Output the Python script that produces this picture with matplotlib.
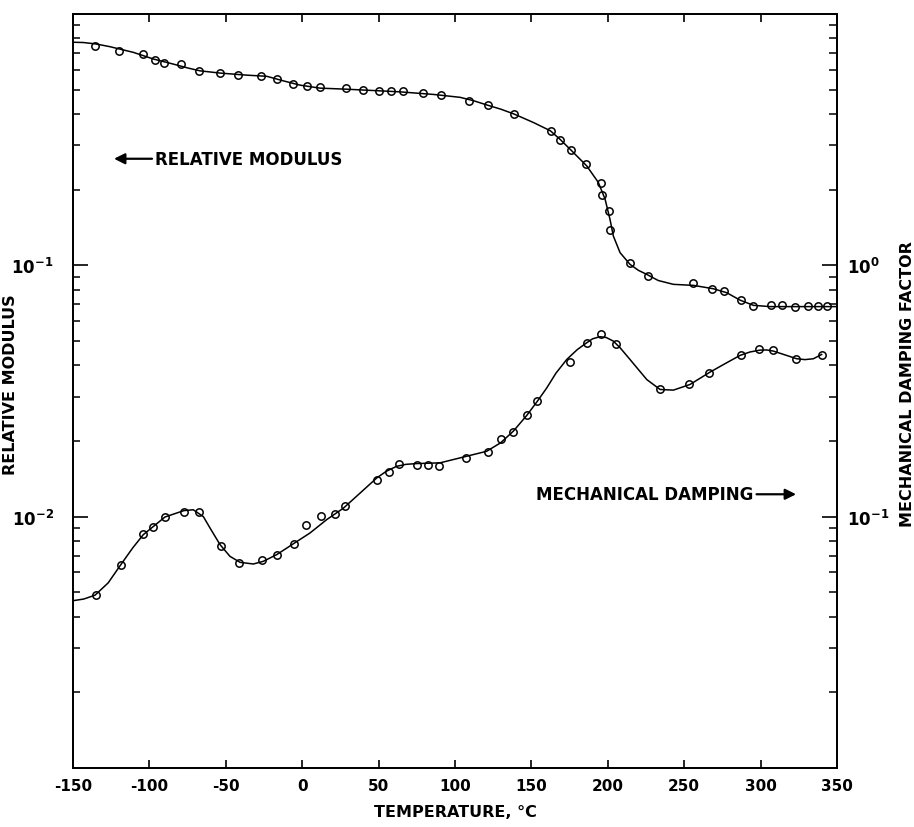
import numpy as np
import matplotlib
matplotlib.use('Agg')
import matplotlib.pyplot as plt
from matplotlib.ticker import LogLocator, NullFormatter, FixedLocator

# measured points: relative modulus (left axis)
mod_temp = [-135.6, -119.7, -104, -96.3, -90.2, -79.5, -67.7, -53.8, -42, -27, -16.7,
            -5.8, 3.1, 11.6, 28.7, 40, 50.5, 58.1, 65.8, 78.9, 90.8,
            109.4, 121.4, 138.8, 162.6, 168.5, 176.1, 185.7, 195.4, 196.2, 200.8, 201.6,
            214.3, 226.5, 255.8, 268, 275.9, 287, 295, 307, 313.8, 322.5, 331, 337.4, 343.7]
mod_val = [0.748, 0.710, 0.691, 0.656, 0.636, 0.634, 0.591, 0.580, 0.573, 0.568, 0.552,
           0.528, 0.517, 0.512, 0.506, 0.499, 0.493, 0.492, 0.492, 0.483, 0.476,
           0.452, 0.434, 0.400, 0.342, 0.314, 0.287, 0.253, 0.212, 0.191, 0.164, 0.138,
           0.102, 0.0910, 0.0850, 0.0808, 0.0790, 0.0727, 0.0687, 0.0693, 0.0697, 0.0680,
           0.0687, 0.0687, 0.0687]

# smooth curve drawn through the modulus points
mod_curve_temp = [-150, -143.3, -135, -125.8, -110.5, -97.4, -84.4, -75, -66.9, -53.8, -36.3,
                  -23.2, -12.4, -1.4, 11.6, 29.1, 64, 85.8, 103.3, 112, 121.1, 130, 138.6,
                  151.3, 162.4, 169, 176.4, 186.2, 193.8, 198.2, 201.4, 203.6, 208, 214.5,
                  220, 225.5, 233, 242.9, 256, 269, 277.8, 286.5, 295.3, 306.2, 350]
mod_curve_val = [0.772, 0.770, 0.760, 0.741, 0.7035, 0.662, 0.632, 0.610, 0.594, 0.582, 0.571,
                 0.565, 0.542, 0.521, 0.507, 0.502, 0.490, 0.4786, 0.466, 0.452, 0.434, 0.418,
                 0.400, 0.370, 0.343, 0.316, 0.2853, 0.2486, 0.2136, 0.1833, 0.1525, 0.1308,
                 0.1123, 0.1009, 0.0955, 0.0920, 0.0870, 0.0840, 0.0832, 0.0807, 0.0778,
                 0.0727, 0.0693, 0.0685, 0.0685]

# measured points: mechanical damping factor (right axis)
damp_temp = [-135.1, -118.8, -104, -97.4, -90, -77.2, -67.5, -53.3, -41.6, -26.1, -16.5,
             -5.6, 2.7, 12.1, 21.3, 28.2, 49.2, 56.8, 63.2, 75.1, 82.3, 89.7,
             107.2, 121.4, 129.9, 137.8, 146.9, 153.9, 175.1, 186.6, 195.7, 205.6,
             234.2, 253.3, 266.4, 287, 299.2, 307.9, 323.2, 340.2]
damp_val = [0.0486, 0.0642, 0.0853, 0.0907, 0.0997, 0.1044, 0.1044, 0.0762, 0.0654, 0.0674,
            0.0701, 0.0780, 0.0927, 0.1003, 0.1021, 0.1099, 0.1404, 0.1511, 0.1616, 0.1607,
            0.1607, 0.1586, 0.1714, 0.1811, 0.2040, 0.2175, 0.2526, 0.2879, 0.4108, 0.4920,
            0.5311, 0.4845, 0.3206, 0.3357, 0.3736, 0.4381, 0.4628, 0.4598, 0.4248, 0.4392]

# smooth curve drawn through the damping points
damp_curve_temp = [-150, -143, -135.6, -127, -119.2, -111, -104, -89.8, -77.4, -71.3, -64.7,
                   -60.3, -53.8, -47.3, -40.7, -32, -25.5, -16.7, -5.8, 5.1, 16, 26.9, 37.8,
                   48.8, 55, 61.8, 68, 74.9, 90.2, 107.6, 120.7, 130, 138.2, 146.9, 153.9, 160,
                   166, 173.1, 180, 186.2, 190, 194.9, 199, 203.6, 208, 214.5, 225.5, 234.2,
                   242.9, 253.8, 266.9, 277.8, 286.5, 293, 299.6, 304, 308.3, 317, 323.5,
                   329, 334.5, 339.9]
damp_curve_val = [0.0463, 0.0470, 0.0487, 0.0545, 0.0638, 0.0750, 0.0848, 0.0997, 0.1057,
                  0.1065, 0.1000, 0.0900, 0.0774, 0.0695, 0.0658, 0.0648, 0.0664, 0.0706,
                  0.078, 0.0861, 0.0973, 0.108, 0.124, 0.1426, 0.1515, 0.1586, 0.1615, 0.1626,
                  0.1637, 0.1739, 0.182, 0.197, 0.219, 0.2526, 0.288, 0.325, 0.372, 0.422,
                  0.462, 0.492, 0.510, 0.520, 0.516, 0.4993, 0.470, 0.422, 0.351, 0.3206,
                  0.3187, 0.3357, 0.376, 0.4096, 0.438, 0.452, 0.4598, 0.4605, 0.4557, 0.438,
                  0.425, 0.4215, 0.4248, 0.4418]

x_ticks = [-150, -100, -50, 0, 50, 100, 150, 200, 250, 300, 350]

plt.rcParams['font.family'] = 'DejaVu Sans'
plt.rcParams['font.weight'] = 'bold'
plt.rcParams['axes.labelweight'] = 'bold'
plt.rcParams['mathtext.default'] = 'bf'

fig = plt.figure(figsize=(9.14, 8.28), dpi=100)
ax = fig.add_axes([0.0799, 0.0713, 0.8359, 0.9106])
ax2 = ax.twinx()

ax.plot(mod_curve_temp, mod_curve_val, color='black', lw=1.1)
ax.plot(mod_temp, mod_val, 'o', mfc='none', mec='black', ms=5.3, mew=1.1)
ax2.plot(damp_curve_temp, damp_curve_val, color='black', lw=1.1)
ax2.plot(damp_temp, damp_val, 'o', mfc='none', mec='black', ms=5.3, mew=1.1)

ax.set_xlim(-150, 350)
ax.set_yscale('log')
ax.set_ylim(1e-3, 1)
ax2.set_yscale('log')
ax2.set_ylim(1e-2, 10)

ax.set_xticks(x_ticks)
ax.set_xticklabels([str(t) for t in x_ticks], fontsize=11)
ax.tick_params(axis='x', direction='in', top=True, length=6, width=1.2, pad=7)

ax.yaxis.set_major_locator(FixedLocator([1e-2, 1e-1]))
ax.set_yticklabels([r'$10^{-2}$', r'$10^{-1}$'], fontsize=12)
ax.yaxis.set_minor_locator(LogLocator(base=10, subs=np.arange(2, 10)))
ax.yaxis.set_minor_formatter(NullFormatter())
ax.tick_params(axis='y', which='major', direction='in', length=11, width=1.2, pad=14)
ax.tick_params(axis='y', which='minor', direction='in', length=5, width=1.1)

ax2.yaxis.set_major_locator(FixedLocator([1e-1, 1e0]))
ax2.set_yticklabels([r'$10^{-1}$', r'$10^{0}$'], fontsize=12)
ax2.yaxis.set_minor_locator(LogLocator(base=10, subs=np.arange(2, 10)))
ax2.yaxis.set_minor_formatter(NullFormatter())
ax2.tick_params(axis='y', which='major', direction='in', length=11, width=1.2, pad=7)
ax2.tick_params(axis='y', which='minor', direction='in', length=6, width=1.1)

for a in (ax, ax2):
    for s in a.spines.values():
        s.set_linewidth(1.3)

ax.set_xlabel('TEMPERATURE, °C', fontsize=11.5, labelpad=8)
ax.set_ylabel('RELATIVE MODULUS', fontsize=11.5)
ax.yaxis.set_label_coords(-0.072, 0.51)
ax2.set_ylabel('MECHANICAL DAMPING FACTOR', fontsize=11.5, rotation=90)
ax2.yaxis.set_label_coords(1.082, 0.51)

# arrow labels
ax.annotate('', xy=(0.050, 0.808), xytext=(0.107, 0.808), xycoords='axes fraction',
            arrowprops=dict(arrowstyle='-|>', color='black', lw=1.6, mutation_scale=16))
ax.text(0.107, 0.808, 'RELATIVE MODULUS', transform=ax.transAxes, fontsize=12,
        ha='left', va='center')
ax.annotate('', xy=(0.950, 0.363), xytext=(0.891, 0.363), xycoords='axes fraction',
            arrowprops=dict(arrowstyle='-|>', color='black', lw=1.6, mutation_scale=16))
ax.text(0.891, 0.363, 'MECHANICAL DAMPING', transform=ax.transAxes, fontsize=12,
        ha='right', va='center')

fig.savefig('out.png', dpi=100)
